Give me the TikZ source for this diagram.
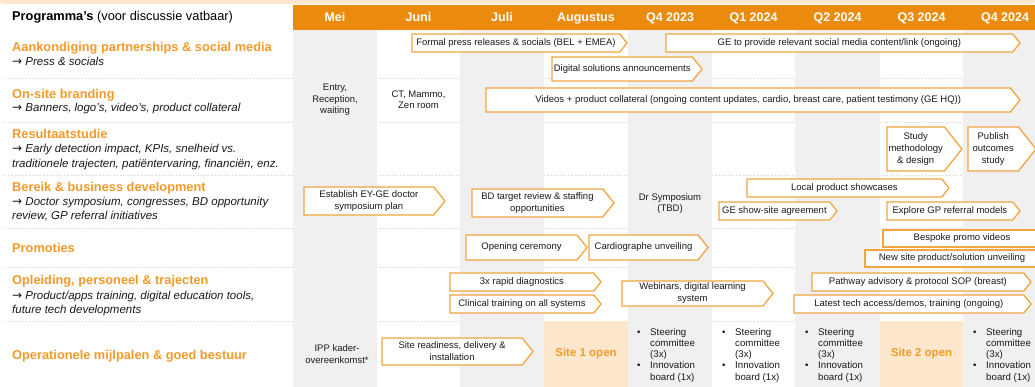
\documentclass[tikz,border=0pt]{standalone}
\usepackage{fontspec}
\setmainfont{Liberation Sans}
\newfontfamily\arrfont{DejaVu Sans}
\usetikzlibrary{calc}
\definecolor{hdr}{HTML}{EA8B0E}
\definecolor{head}{HTML}{F29B2B}
\definecolor{bord}{HTML}{F2A540}
\definecolor{colgray}{HTML}{F0F0F0}
\definecolor{peach}{HTML}{FDE7CD}
\definecolor{sepc}{HTML}{E0E0E0}
\definecolor{txt}{HTML}{1A1A1A}
\newcommand\fs[2]{\fontsize{#1}{#2}\selectfont}
\newcommand\arr{{\arrfont\itshape\fontsize{12}{14}\selectfont →}}
\newcommand\abox[6]{%
  \pgfmathsetmacro\tipd{0.4*(#5-#4)}%
  \draw[boxline] (#2,#4) -- ({#3-\tipd},#4) -- (#3,{(#4+#5)/2}) -- ({#3-\tipd},#5) -- (#2,#5) -- cycle;
  \node[boxtxt] (#1) at ({(#2+#3-\tipd)/2},{(#4+#5)/2}) {#6};
}
\newcommand\bulcol[3]{%
  \node[bultxt] (#1) at (#2,#3) {\begin{tabular}[t]{@{}p{13pt}@{}l@{}}\textbullet&Steering\\&committee\\&(3x)\\\textbullet&Innovation\\&board (1x)\end{tabular}};
}
\begin{document}
\begin{tikzpicture}[x=1pt,y=-1pt,
  boxline/.style={draw=bord,fill=white,line width=1.3pt,line join=miter},
  boxtxt/.style={align=center,inner sep=0pt,font=\fs{9.5}{12},text=txt},
  celltxt/.style={align=center,inner sep=0pt,font=\fs{9.5}{11.5},text=txt,anchor=base},
  bultxt/.style={inner sep=0pt,anchor=base west,font=\fs{9.7}{11.3},text=txt},
  month/.style={anchor=base,inner sep=0pt,font=\fs{12.5}{14}\bfseries,text=white},
  heading/.style={anchor=base west,inner sep=0pt,font=\fs{12.8}{14}\bfseries,text=head},
  sub/.style={anchor=base west,inner sep=0pt,font=\fs{11.5}{14}\itshape,text=txt},
  sepline/.style={draw=sepc,line width=0.8pt,dash pattern=on 2pt off 1.5pt},
  siteopen/.style={inner sep=0pt,font=\fs{11.5}{13}\bfseries,text=head}]
\useasboundingbox (0,0) rectangle (1035,387);
\fill[white] (0,0) rectangle (1035,387);
\begin{scope}
\clip (0,0) rectangle (1035,387);
\fill[peach,rounded corners=3pt] (0,-8) rectangle (1035,4);
% separators
\foreach \y in {78,122,175,228,267,321} \draw[sepline] (4,\y) -- (1035,\y);
% gray columns
\foreach \a/\b in {293/377,460/544,628/712,795/880,963/1040} \fill[colgray] (\a,30) rectangle (\b,387);
\fill[peach] (544,321) rectangle (628,387);
\fill[peach] (880,321) rectangle (963,387);
% header
\fill[hdr] (293,5) rectangle (1040,30);
\node[month] (m1) at (335,21.5) {Mei};
\node[month] (m2) at (418.5,21.5) {Juni};
\node[month] (m3) at (502,21.5) {Juli};
\node[month] (m4) at (586,21.5) {Augustus};
\node[month] (m5) at (670,21.5) {Q4 2023};
\node[month] (m6) at (753.5,21.5) {Q1 2024};
\node[month] (m7) at (837.5,21.5) {Q2 2024};
\node[month] (m8) at (921.5,21.5) {Q3 2024};
\node[month] (m9) at (1005,21.5) {Q4 2024};
% left labels
\node[anchor=base west,inner sep=0pt,font=\fs{12.8}{14},text=black] (prog) at (12,20.5) {\textbf{Programma's} (voor discussie vatbaar)};
\node[heading] (h1) at (12,52) {Aankondiging partnerships \& social media};
\node[sub] (s1) at (12,66) {\arr{} Press \& socials};
\node[heading] (h2) at (12,99) {On-site branding};
\node[sub] (s2) at (12,111.5) {\arr{} Banners, logo's, video's, product collateral};
\node[heading] (h3) at (12,138.5) {Resultaatstudie};
\node[sub] (s3a) at (12,153) {\arr{} Early detection impact, KPIs, snelheid vs.};
\node[sub] (s3b) at (12,167.5) {traditionele trajecten, patiëntervaring, financiën, enz.};
\node[heading] (h4) at (12,191.5) {Bereik \& business development};
\node[sub] (s4a) at (12,206) {\arr{} Doctor symposium, congresses, BD opportunity};
\node[sub] (s4b) at (12,220) {review, GP referral initiatives};
\node[heading] (h5) at (12,252) {Promoties};
\node[heading] (h6) at (12,284.5) {Opleiding, personeel \& trajecten};
\node[sub] (s6a) at (12,299) {\arr{} Product/apps training, digital education tools,};
\node[sub] (s6b) at (12,313.5) {future tech developments};
\node[heading] (h7) at (12,359) {Operationele mijlpalen \& goed bestuur};
% row 1
\abox{fpr}{412}{627}{34}{52}{Formal press releases \& socials (BEL + EMEA)}
\abox{gesm}{666}{1020}{34}{52}{GE to provide relevant social media content/link (ongoing)}
\abox{dsa}{552}{702}{57}{81}{Digital solutions announcements}
% row 2
\node[celltxt] (entry) at (335,114) {Entry,\\Reception,\\waiting};
\node[celltxt] (ct) at (418.5,109) {CT, Mammo,\\Zen room};
\abox{vid}{486}{1020}{88}{112}{Videos + product collateral (ongoing content updates, cardio, breast care, patient testimony (GE HQ))}
% row 3
\abox{smd}{887}{962}{127}{171}{Study\\methodology\\\& design}
\abox{pos}{968}{1036}{127}{171}{Publish\\outcomes\\study}
% row 4
\abox{est}{304}{445}{187}{215}{Establish EY-GE doctor\\symposium plan}
\abox{bdt}{472}{614}{189}{217}{BD target review \& staffing\\opportunities}
\node[celltxt] (drs) at (670,212) {Dr Symposium\\(TBD)};
\abox{lps}{747}{949}{179}{197}{Local product showcases}
\abox{gess}{719}{837}{202}{220}{GE show-site agreement}
\abox{egp}{887}{1020}{202}{220}{Explore GP referral models}
% row 5
\abox{oc}{466}{587}{235}{260}{Opening ceremony}
\abox{cu}{589}{708}{235}{260}{Cardiographe unveiling}
\draw[boxline] (883,230) rectangle (1045,247);
\node[boxtxt] (bpv) at (962,238.5) {Bespoke promo videos};
\draw[boxline] (865,250) rectangle (1045,267);
\node[boxtxt] (nsp) at (952,258.5) {New site product/solution unveiling};
% row 6
\abox{rd}{450}{601}{273}{291}{3x rapid diagnostics}
\abox{ctr}{450}{601}{295}{313}{Clinical training on all systems}
\abox{web}{622}{773}{281}{306}{Webinars, digital learning\\system}
\abox{pa}{812}{1031}{273}{291}{Pathway advisory \& protocol SOP (breast)}
\abox{lt}{794}{1031}{295}{313}{Latest tech access/demos, training (ongoing)}
% row 7
\node[celltxt] (ipp) at (337,363) {IPP kader-\\overeenkomst*};
\abox{srd}{382}{533}{338}{365}{Site readiness, delivery \&\\installation}
\node[siteopen] (s1o) at (586,354) {Site 1 open};
\node[siteopen] (s2o) at (921.5,354) {Site 2 open};
\bulcol{b1}{637}{335}
\bulcol{b2}{722}{335}
\bulcol{b3}{805}{335}
\bulcol{b4}{973}{335}
\end{scope}
\end{tikzpicture}
\end{document}
